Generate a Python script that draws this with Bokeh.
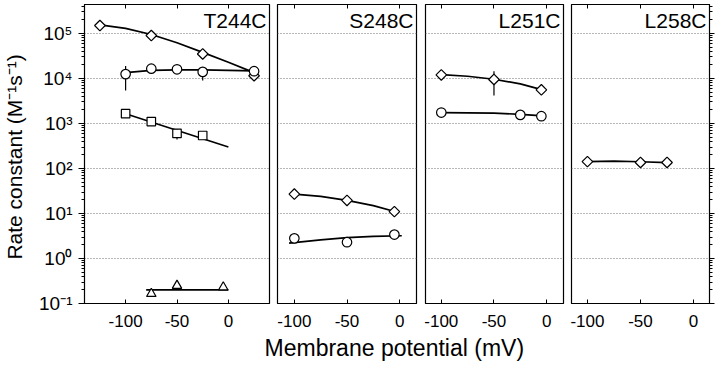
import math
from bokeh.plotting import figure
from bokeh.models import (FixedTicker, LinearAxis, LogAxis, Grid, Label, Range1d,
                          CustomLabelingPolicy)
from bokeh.layouts import row, column
from bokeh.embed import file_html
from bokeh.resources import INLINE

# ---------------- data ----------------
PANEL_NAMES = ["T244C", "S248C", "L251C", "L258C"]
X_TICKS = [-100, -50, 0]
X_TICK_LABELS = ["-100", "-50", "0"]
Y_TICKS = [1e-1, 1e0, 1e1, 1e2, 1e3, 1e4, 1e5]
Y_TICK_LABELS = ["10⁻¹", "10⁰", "10¹", "10²", "10³", "10⁴", "10⁵"]
Y_MINOR = [m * 10.0 ** e for e in range(-1, 6) for m in range(2, 10)]
Y_LABEL = "Rate constant  (M⁻¹s⁻¹)"
X_LABEL = "Membrane potential  (mV)"

# T244C
T244_DIA_X = [-125, -75, -25, 25]
T244_DIA_Y = [1.5e5, 9.0e4, 3.5e4, 1.15e4]
T244_DIA_FIT_X = [-125, -100, -75, -50, -25, 0, 25]
T244_DIA_FIT_Y = [1.55e5, 1.3e5, 9.5e4, 6.2e4, 3.8e4, 2.3e4, 1.35e4]
T244_CIR_X = [-100, -75, -50, -25, 25]
T244_CIR_Y = [1.25e4, 1.65e4, 1.6e4, 1.4e4, 1.45e4]
T244_CIR_ERR_X = [-100, -25]
T244_CIR_ERR_LO = [5.4e3, 9.0e3]
T244_CIR_ERR_HI = [1.9e4, 1.75e4]
T244_CIR_FIT_X = [-100, -75, -50, -25, 0, 25]
T244_CIR_FIT_Y = [1.35e4, 1.52e4, 1.55e4, 1.55e4, 1.52e4, 1.48e4]
T244_SQ_X = [-100, -75, -50, -25]
T244_SQ_Y = [1.65e3, 1.1e3, 6.0e2, 5.4e2]
T244_SQ_ERR_X = [-50]
T244_SQ_ERR_LO = [4.4e2]
T244_SQ_ERR_HI = [7.5e2]
T244_SQ_FIT_X = [-100, 0]
T244_SQ_FIT_Y = [1.65e3, 3.0e2]
T244_TRI_X = [-75, -50, -5]
T244_TRI_Y = [0.165, 0.25, 0.23]
T244_TRI_FIT_X = [-80, 0]
T244_TRI_FIT_Y = [0.2, 0.2]

# S248C
S248_DIA_X = [-100, -50, -5]
S248_DIA_Y = [27.0, 19.5, 11.0]
S248_DIA_FIT_X = [-100, -75, -50, -25, -3]
S248_DIA_FIT_Y = [27.0, 24.0, 19.5, 15.0, 10.8]
S248_CIR_X = [-100, -50, -5]
S248_CIR_Y = [2.8, 2.3, 3.4]
S248_CIR_FIT_X = [-105, -75, -50, -25, 2]
S248_CIR_FIT_Y = [2.2, 2.6, 2.9, 3.1, 3.2]

# L251C
L251_DIA_X = [-100, -50, -5]
L251_DIA_Y = [1.2e4, 9.5e3, 5.6e3]
L251_DIA_ERR_X = [-50]
L251_DIA_ERR_LO = [4.2e3]
L251_DIA_ERR_HI = [1.45e4]
L251_DIA_FIT_X = [-100, -75, -50, -25, -3]
L251_DIA_FIT_Y = [1.22e4, 1.12e4, 9.6e3, 7.6e3, 5.5e3]
L251_CIR_X = [-100, -25, -5]
L251_CIR_Y = [1.75e3, 1.55e3, 1.45e3]
L251_CIR_FIT_X = [-100, -50, -25, -3]
L251_CIR_FIT_Y = [1.75e3, 1.7e3, 1.6e3, 1.48e3]

# L258C
L258_DIA_X = [-100, -50, -25]
L258_DIA_Y = [142.0, 136.0, 136.0]
L258_DIA_FIT_X = [-100, -75, -50, -25]
L258_DIA_FIT_Y = [142.0, 146.0, 141.0, 135.0]

PANEL_XRANGES = [(-140, 40), (-116, 16), (-115, 16), (-115, 15)]
Y_START, Y_END = 0.1, 4.4e5

FONT = "Liberation Sans"

NO_LABELS = "return []"


# ---------------- helpers ----------------
def make_panel(idx, frame_w, b_left, b_right, left_axis=False, right_axis=False):
    x0, x1 = PANEL_XRANGES[idx]
    p = figure(frame_width=frame_w, frame_height=299,
               x_range=Range1d(x0, x1), y_range=Range1d(Y_START, Y_END),
               y_axis_type="log", y_axis_location="left" if left_axis else None,
               toolbar_location=None, tools="", output_backend="svg",
               min_border_left=b_left, min_border_right=b_right,
               min_border_top=1, min_border_bottom=30,
               background_fill_color="white", border_fill_color="white",
               outline_line_color="black", outline_line_width=1.2)
    p.xgrid.visible = False
    p.ygrid.visible = False
    p.add_layout(Grid(dimension=1, ticker=FixedTicker(ticks=Y_TICKS[1:]),
                      grid_line_color="#6e6e6e", grid_line_dash="1 2",
                      grid_line_width=1))
    xa = p.xaxis[0]
    xa.ticker = FixedTicker(ticks=X_TICKS, minor_ticks=[])
    xa.major_label_overrides = dict(zip(X_TICKS, X_TICK_LABELS))
    xa.major_tick_in = 4
    xa.major_tick_out = 0
    xa.minor_tick_in = 0
    xa.minor_tick_out = 0
    xa.major_label_standoff = 11
    xa.major_label_text_font = FONT
    xa.major_label_text_font_size = "17px"
    xa.major_label_text_color = "black"
    xa.axis_line_color = "black"
    xa.major_tick_line_color = "black"

    top = LinearAxis(ticker=FixedTicker(ticks=X_TICKS, minor_ticks=[]),
                     major_tick_in=4, major_tick_out=0, minor_tick_in=0,
                     minor_tick_out=0, major_label_text_font_size="1px",
                     major_label_policy=CustomLabelingPolicy(code=NO_LABELS),
                     major_label_standoff=0, axis_line_color="black",
                     major_tick_line_color="black")
    p.add_layout(top, "above")

    if left_axis:
        ya = p.yaxis[0]
        ya.ticker = FixedTicker(ticks=Y_TICKS, minor_ticks=Y_MINOR)
        ya.major_label_overrides = dict(zip(Y_TICKS, Y_TICK_LABELS))
        ya.major_tick_out = 6
        ya.major_tick_in = 0
        ya.minor_tick_out = 3
        ya.minor_tick_in = 0
        ya.major_label_standoff = 6
        ya.major_label_text_font = FONT
        ya.major_label_text_font_size = "19px"
        ya.major_label_text_color = "black"
        ya.axis_label = Y_LABEL
        ya.axis_label_text_font = FONT
        ya.axis_label_text_font_size = "21px"
        ya.axis_label_text_font_style = "normal"
        ya.axis_label_text_color = "black"
        ya.axis_label_standoff = 10
        ya.axis_line_color = "black"
    if right_axis:
        ra = LogAxis(ticker=FixedTicker(ticks=Y_TICKS, minor_ticks=Y_MINOR),
                     major_tick_out=5, major_tick_in=0, minor_tick_out=3,
                     minor_tick_in=0, major_label_text_font_size="1px",
                     major_label_policy=CustomLabelingPolicy(code=NO_LABELS),
                     major_label_standoff=0, axis_line_color="black")
        p.add_layout(ra, "right")

    p.add_layout(Label(x=x1, y=Y_END, text=PANEL_NAMES[idx], text_align="right",
                       text_baseline="top", x_offset=-3, y_offset=-4,
                       text_font=FONT, text_font_size="21px", text_color="black"))
    return p


def fit(p, xs, ys):
    p.line(xs, ys, line_color="black", line_width=1.7)


def err(p, xs, lo, hi):
    p.segment(x0=xs, y0=lo, x1=xs, y1=hi, line_color="black", line_width=1.2)


def pts(p, xs, ys, kind):
    if kind == "diamond":
        p.scatter(xs, ys, marker="square", angle=math.pi / 4, size=7.5,
                  fill_color="white", line_color="black", line_width=1.2)
    elif kind == "circle":
        p.scatter(xs, ys, marker="circle", size=9.5,
                  fill_color="white", line_color="black", line_width=1.2)
    elif kind == "square":
        p.scatter(xs, ys, marker="square", size=8.5,
                  fill_color="white", line_color="black", line_width=1.2)
    elif kind == "triangle":
        p.scatter(xs, ys, marker="triangle", size=9.5,
                  fill_color="white", line_color="black", line_width=1.2)


# ---------------- panels ----------------
p1 = make_panel(0, 185, 77, 2, left_axis=True)
fit(p1, T244_DIA_FIT_X, T244_DIA_FIT_Y)
fit(p1, T244_CIR_FIT_X, T244_CIR_FIT_Y)
fit(p1, T244_SQ_FIT_X, T244_SQ_FIT_Y)
fit(p1, T244_TRI_FIT_X, T244_TRI_FIT_Y)
err(p1, T244_CIR_ERR_X, T244_CIR_ERR_LO, T244_CIR_ERR_HI)
err(p1, T244_SQ_ERR_X, T244_SQ_ERR_LO, T244_SQ_ERR_HI)
pts(p1, T244_DIA_X, T244_DIA_Y, "diamond")
pts(p1, T244_CIR_X, T244_CIR_Y, "circle")
pts(p1, T244_SQ_X, T244_SQ_Y, "square")
pts(p1, T244_TRI_X, T244_TRI_Y, "triangle")

p2 = make_panel(1, 139, 6, 2)
fit(p2, S248_DIA_FIT_X, S248_DIA_FIT_Y)
fit(p2, S248_CIR_FIT_X, S248_CIR_FIT_Y)
pts(p2, S248_DIA_X, S248_DIA_Y, "diamond")
pts(p2, S248_CIR_X, S248_CIR_Y, "circle")

p3 = make_panel(2, 138, 7, 2)
fit(p3, L251_DIA_FIT_X, L251_DIA_FIT_Y)
fit(p3, L251_CIR_FIT_X, L251_CIR_FIT_Y)
err(p3, L251_DIA_ERR_X, L251_DIA_ERR_LO, L251_DIA_ERR_HI)
pts(p3, L251_DIA_X, L251_DIA_Y, "diamond")
pts(p3, L251_CIR_X, L251_CIR_Y, "circle")

p4 = make_panel(3, 138, 6, 2, right_axis=True)
fit(p4, L258_DIA_FIT_X, L258_DIA_FIT_Y)
pts(p4, L258_DIA_X, L258_DIA_Y, "diamond")

# ---------------- common x label ----------------
pl = figure(width=704, height=30, x_range=Range1d(0, 704), y_range=Range1d(0, 30),
            toolbar_location=None, tools="", output_backend="svg",
            x_axis_location=None, y_axis_location=None, min_border=0,
            outline_line_color=None, background_fill_color="white",
            border_fill_color="white")
pl.xgrid.visible = False
pl.ygrid.visible = False
pl.add_layout(Label(x=397, y=16, text=X_LABEL, text_align="center",
                    text_baseline="middle", text_font=FONT,
                    text_font_size="23px", text_color="black"))

layout = column(row(p1, p2, p3, p4), pl)
open("out.html", "w").write(file_html(layout, INLINE))
